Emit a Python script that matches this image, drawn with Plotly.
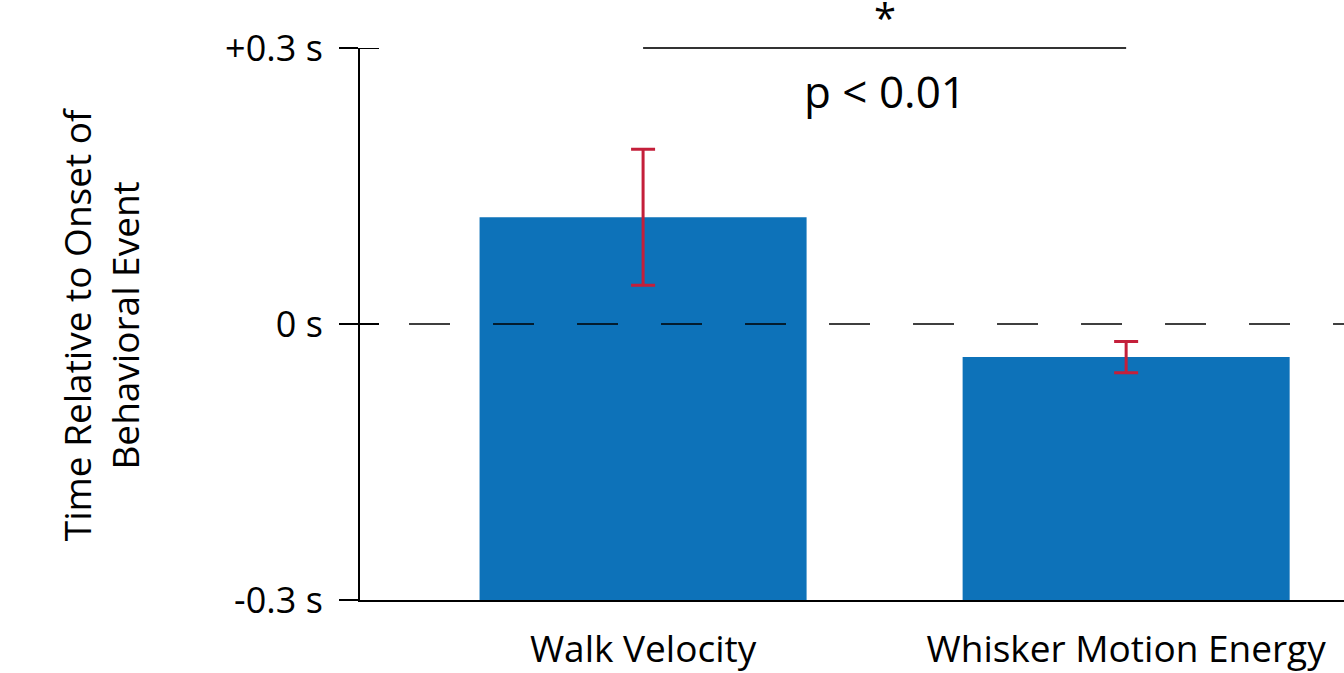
import plotly.graph_objects as go

categories = ["Walk Velocity", "Whisker Motion Energy"]
values = [0.116, -0.036]
errors = [0.074, 0.017]
y_ticks = [-0.3, 0, 0.3]
y_tick_labels = ["-0.3 s", "0 s", "+0.3 s"]
y_min, y_max = -0.3, 0.3
p_text = "p < 0.01"
star_text = "*"
y_title = "Time Relative to Onset of<br>Behavioral Event"

FONT = "Open Sans"
BAR_COLOR = "#0d72b9"
ERR_COLOR = "#c41f3a"

fig = go.Figure()
fig.add_trace(go.Bar(
    x=categories,
    y=[v - y_min for v in values],
    base=[y_min] * len(values),
    width=0.677,
    marker=dict(color=BAR_COLOR, line=dict(width=0)),
    hoverinfo="skip",
))
fig.add_trace(go.Scatter(
    x=categories,
    y=values,
    mode="markers",
    marker=dict(size=1, color="rgba(0,0,0,0)"),
    error_y=dict(type="data", array=errors, visible=True, color=ERR_COLOR,
                 thickness=3, width=12),
    hoverinfo="skip",
))

# dashed zero line
fig.add_shape(type="line", xref="x", yref="y", x0=-0.4845, x1=1.451, y0=0, y1=0,
              line=dict(color="black", width=1.5, dash="41px,43px"), layer="above")
# inner tick halves
for t in [0, 0.3]:
    fig.add_shape(type="line", xref="paper", yref="y", x0=0, x1=19 / 984, y0=t, y1=t,
                  line=dict(color="black", width=2), layer="above")
# significance bar
fig.add_shape(type="line", xref="x", yref="paper", x0=0, x1=1, y0=1, y1=1,
              line=dict(color="#333333", width=2), layer="above")
fig.add_annotation(x=0.5, y=1, xref="x", yref="paper", text=star_text, showarrow=False,
                   xanchor="center", yanchor="middle",
                   yshift=31, font=dict(family=FONT, size=40, color="black"))
fig.add_annotation(x=0.5, y=1, xref="x", yref="paper", text=p_text, showarrow=False,
                   xanchor="center", yanchor="middle",
                   yshift=-43, font=dict(family=FONT, size=44, color="black"))
# y-axis title
fig.add_annotation(x=-0.264, y=0.5, xref="paper", yref="paper", text=y_title,
                   showarrow=False, textangle=-90, xanchor="center", yanchor="middle",
                   font=dict(family=FONT, size=37, color="black"))

fig.update_layout(
    width=1344, height=673,
    margin=dict(l=360, r=0, t=48, b=71),
    paper_bgcolor="white", plot_bgcolor="white",
    showlegend=False,
    font=dict(family=FONT, color="black"),
    xaxis=dict(
        type="category", range=[-0.586, 1.451],
        showline=True, linecolor="black", linewidth=2,
        ticks="", showgrid=False, zeroline=False,
        ticklabelstandoff=16,
        tickfont=dict(family=FONT, size=37, color="black"),
    ),
    yaxis=dict(
        range=[y_min, y_max], tickvals=y_ticks, ticktext=y_tick_labels,
        showline=True, linecolor="black", linewidth=2,
        ticks="outside", ticklen=19, tickwidth=2, tickcolor="black",
        showgrid=False, zeroline=False,
        ticklabelstandoff=9,
        tickfont=dict(family=FONT, size=36, color="black"),
    ),
)

fig.write_html("out.html")
